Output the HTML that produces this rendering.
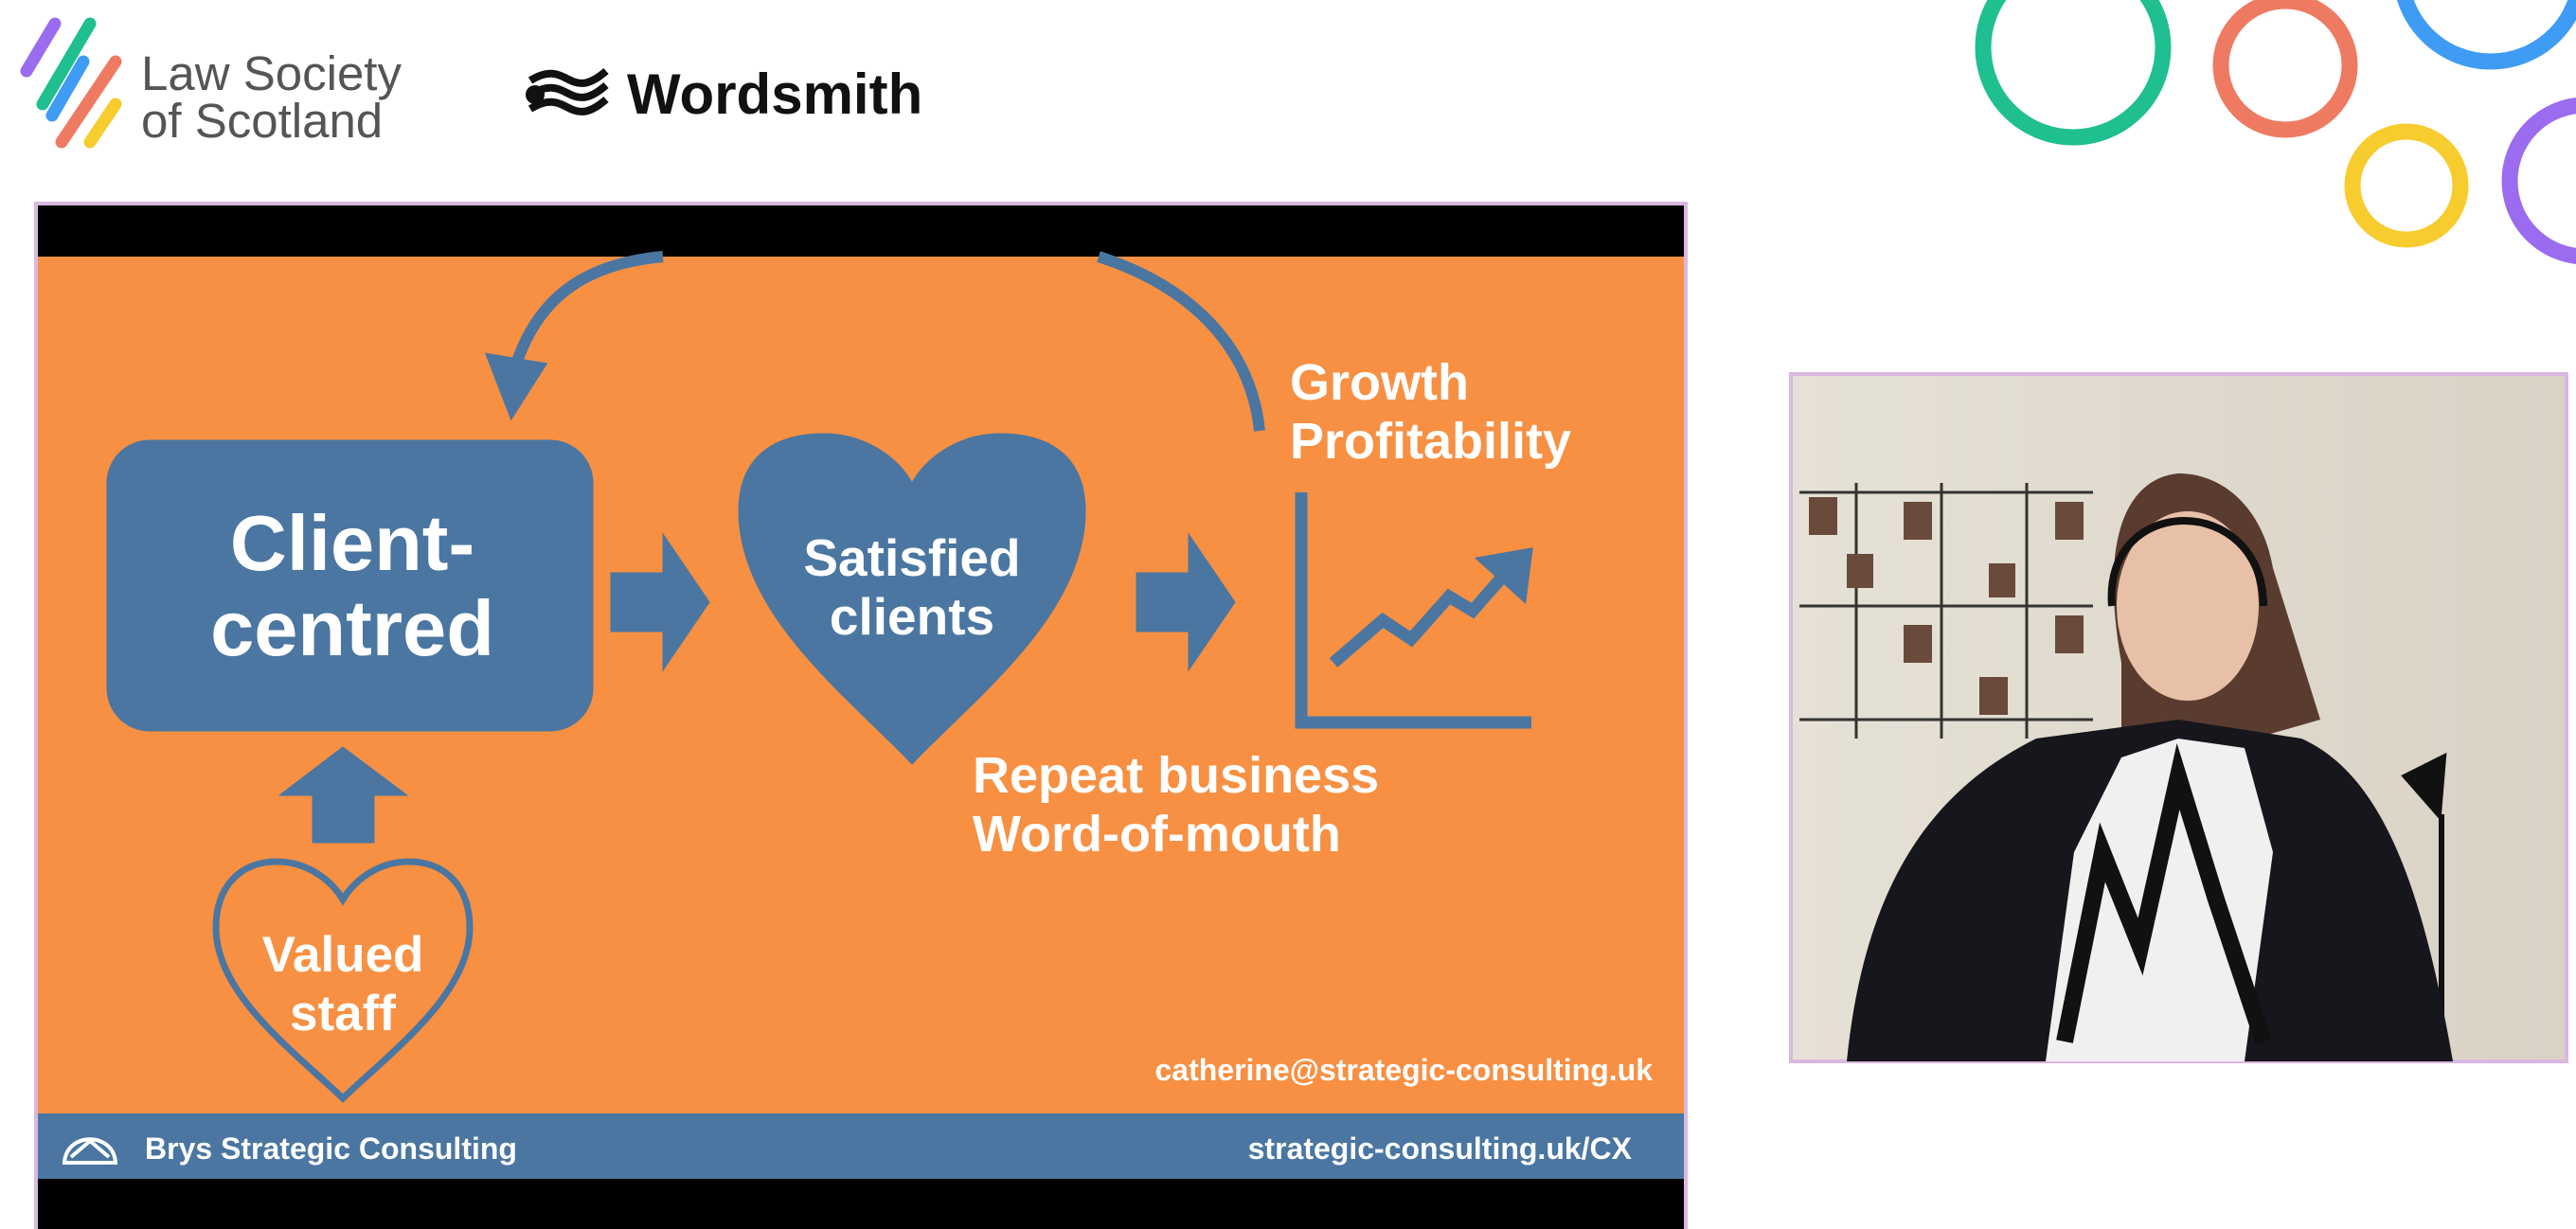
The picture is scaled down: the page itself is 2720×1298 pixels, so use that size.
<!DOCTYPE html>
<html><head><meta charset="utf-8"><style>
html,body{margin:0;padding:0;background:#fff;width:2720px;height:1298px;overflow:hidden;font-family:"Liberation Sans",sans-serif}
</style></head><body>
<svg width="2720" height="1298" viewBox="0 0 2720 1298" xmlns="http://www.w3.org/2000/svg">
<rect width="2720" height="1298" fill="#fff"/>
<g>
 <g stroke-linecap="round" stroke-width="13">
  <line x1="58" y1="25" x2="28" y2="75" stroke="#9b6cf0"/>
  <line x1="95" y1="25" x2="45" y2="110" stroke="#1fbf8f"/>
  <line x1="88" y1="65" x2="55" y2="122" stroke="#3f9cf5"/>
  <line x1="122" y1="65" x2="65" y2="150" stroke="#ef7a62"/>
  <line x1="122" y1="110" x2="95" y2="150" stroke="#f7cc2e"/>
 </g>
 <text x="149" y="95" font-size="51" fill="#555">Law Society</text>
 <text x="149" y="145" font-size="51" fill="#555">of Scotland</text>
</g>
<g>
 <path d="M560 85 C600 60,600 110,640 75 M560 100 C600 75,600 125,640 90 M560 115 C600 90,600 140,640 105" stroke="#111" stroke-width="8" fill="none"/>
 <circle cx="565" cy="100" r="10" fill="#111"/>
 <text x="662" y="120" font-size="60" font-weight="bold" fill="#111">Wordsmith</text>
</g>
<g fill="none">
 <circle cx="2189" cy="50" r="95" stroke="#1fbf8f" stroke-width="17"/>
 <circle cx="2413" cy="69" r="68" stroke="#ef7a62" stroke-width="17"/>
 <circle cx="2630" cy="-30" r="95" stroke="#3f9cf5" stroke-width="17"/>
 <circle cx="2541" cy="196" r="57" stroke="#f7cc2e" stroke-width="17"/>
 <circle cx="2730" cy="191" r="80" stroke="#9b6cf0" stroke-width="17"/>
</g>
<g>
 <rect x="38" y="215" width="1742" height="1090" fill="#000" stroke="#d9b8e0" stroke-width="4"/>
 <rect x="40" y="271" width="1738" height="905" fill="#f79043"/>
 <rect x="40" y="1176" width="1738" height="69" fill="#4a76a1"/>
 <g fill="#4a76a1" stroke="#4a76a1">
  <path d="M700 271 C600 280,560 330,540 400" stroke-width="12" fill="none"/>
  <path d="M515 375 L540 440 L575 385 Z" stroke-width="4"/>
  <path d="M1160 271 C1250 300,1320 360,1330 455" stroke-width="12" fill="none"/>
  <rect x="113" y="465" width="513" height="307" rx="45"/>
  <path d="M963 807 C900 740,780 650,780 540 C780 480,820 458,870 458 C915 458,950 485,963 510 C976 485,1011 458,1056 458 C1106 458,1146 480,1146 540 C1146 650,1026 740,963 807 Z"/>
  <path d="M645 605 L700 605 L700 564 L749 636 L700 708 L700 667 L645 667 Z"/>
  <path d="M1200 605 L1255 605 L1255 564 L1304 636 L1255 708 L1255 667 L1200 667 Z"/>
  <path d="M330 890 L330 840 L295 840 L362 789 L430 840 L395 840 L395 890 Z"/>
  <path d="M362 1160 C310 1110,228 1050,228 980 C228 935,255 910,292 910 C325 910,350 930,362 950 C374 930,399 910,432 910 C469 910,496 935,496 980 C496 1050,414 1110,362 1160 Z" fill="none" stroke-width="7"/>
  <path d="M1374 520 L1374 763 L1617 763" fill="none" stroke-width="13"/>
  <path d="M1408 700 L1460 655 L1490 675 L1530 630 L1555 645 L1590 605" fill="none" stroke-width="13"/>
  <path d="M1560 590 L1617 580 L1610 635 Z" stroke-width="3"/>
 </g>
 <g fill="#fff" font-weight="bold" text-anchor="middle">
  <text x="372" y="602" font-size="83">Client-</text>
  <text x="372" y="692" font-size="83">centred</text>
  <text x="963" y="608" font-size="55">Satisfied</text>
  <text x="963" y="670" font-size="55">clients</text>
  <text x="362" y="1026" font-size="53">Valued</text>
  <text x="362" y="1088" font-size="53">staff</text>
 </g>
 <g fill="#fff" font-weight="bold" font-size="54">
  <text x="1362" y="422">Growth</text>
  <text x="1362" y="484">Profitability</text>
  <text x="1027" y="837">Repeat business</text>
  <text x="1027" y="899">Word-of-mouth</text>
  <text x="1745" y="1141" font-size="32" text-anchor="end">catherine@strategic-consulting.uk</text>
  <text x="153" y="1224" font-size="32">Brys Strategic Consulting</text>
  <text x="1723" y="1224" font-size="32" text-anchor="end">strategic-consulting.uk/CX</text>
 </g>
 <g stroke="#fff" stroke-width="4" fill="none"><path d="M68 1228 C70 1195,120 1195,122 1228 Z"/><path d="M75 1222 L95 1205 L115 1222"/></g>
</g>
<g>
 <defs><linearGradient id="wall" x1="0" x2="1"><stop offset="0" stop-color="#e6e1d6"/><stop offset="1" stop-color="#d9d2c5"/></linearGradient></defs>
 <rect x="1891" y="395" width="819" height="726" fill="url(#wall)" stroke="#d9b8e0" stroke-width="4"/>
 <g stroke="#333" stroke-width="3" fill="none">
  <path d="M1900 520 H2210 M1900 640 H2210 M1900 760 H2210 M1960 510 V780 M2050 510 V780 M2140 510 V780"/>
 </g>
 <g fill="#6a4a3a"><rect x="1910" y="525" width="30" height="40"/><rect x="2010" y="530" width="30" height="40"/><rect x="2170" y="530" width="30" height="40"/><rect x="1950" y="585" width="28" height="36"/><rect x="2100" y="595" width="28" height="36"/><rect x="2010" y="660" width="30" height="40"/><rect x="2170" y="650" width="30" height="40"/><rect x="2090" y="715" width="30" height="40"/></g>
 <path d="M2540 820 L2580 800 L2575 860 Z M2578 860 V1121" stroke="#111" stroke-width="6" fill="#111"/>
 <path d="M2240 700 C2215 560,2250 505,2300 500 C2350 500,2390 540,2400 600 L2450 760 L2380 780 L2240 780 Z" fill="#5a3b30"/>
 <ellipse cx="2310" cy="640" rx="75" ry="100" fill="#e8c0a8"/>
 <path d="M1950 1121 C1970 920,2050 830,2150 780 L2300 760 L2430 780 C2520 820,2560 950,2590 1121 Z" fill="#16161c"/>
 <path d="M2160 1121 L2190 900 L2240 800 L2300 780 L2370 790 L2400 900 L2370 1121 Z" fill="#f0f0f0"/>
 <path d="M2180 1100 L2220 900 L2260 1000 L2300 820 L2340 950 L2390 1100" stroke="#111" stroke-width="18" fill="none"/>
 <path d="M2230 640 C2220 520,2390 520,2390 640" stroke="#111" stroke-width="8" fill="none"/>
</g>
</svg>
</body></html>
